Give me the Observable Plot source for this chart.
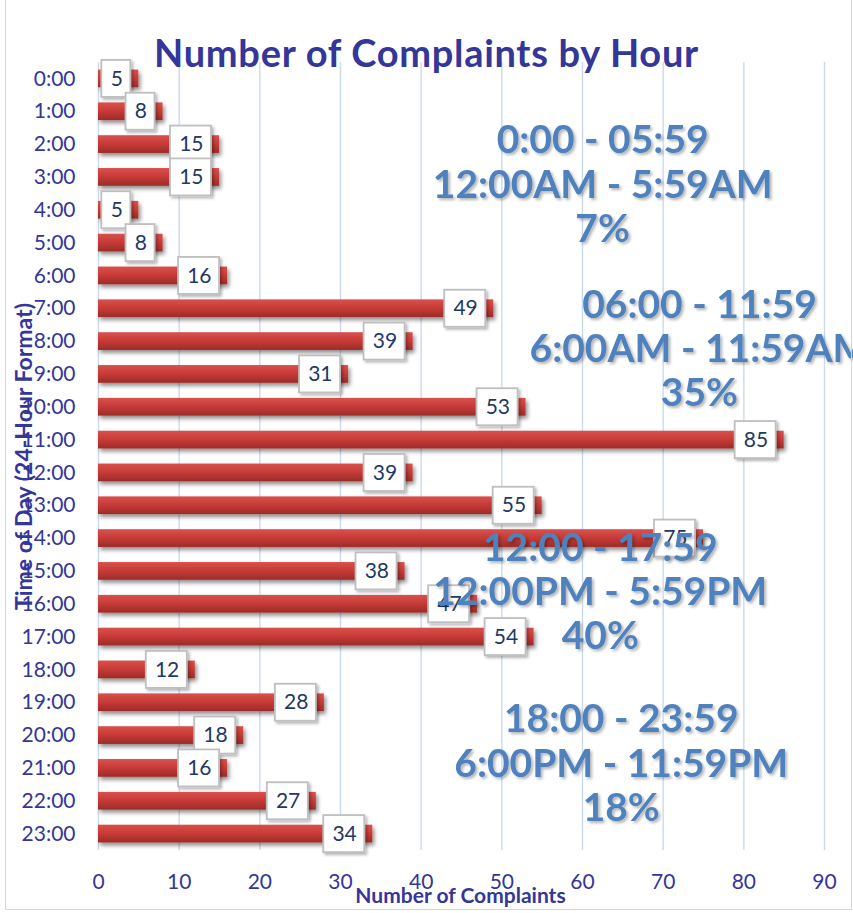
<!DOCTYPE html>
<html>
<head>
<meta charset="utf-8">
<script src="https://cdn.jsdelivr.net/npm/d3@7"></script>
<script src="https://cdn.jsdelivr.net/npm/@observablehq/plot@0.6"></script>
<style>
html, body { margin: 0; padding: 0; background: #fff; }
#wrap { position: relative; width: 853px; height: 913px; overflow: hidden; font-family: Lato, sans-serif; }
#border { position: absolute; left: 5px; top: -3px; width: 847px; height: 913px; border: 1.5px solid #c9d8ec; box-sizing: border-box; pointer-events: none; z-index: 3; }
#title { position: relative; z-index: 2; height: 60px; padding-top: 29px; box-sizing: border-box; line-height: 46px;
  font-size: 38px; font-weight: 700; color: #343699; text-align: center; white-space: nowrap; letter-spacing: 0.7px; }
#chart svg { display: block; }
</style>
</head>
<body>
<div id="wrap">
  <div id="border"></div>
  <div id="title">Number of Complaints by Hour</div>
  <div id="chart"></div>
</div>
<script>
// ---- data ----
const hours = ["0:00","1:00","2:00","3:00","4:00","5:00","6:00","7:00","8:00","9:00","10:00","11:00",
  "12:00","13:00","14:00","15:00","16:00","17:00","18:00","19:00","20:00","21:00","22:00","23:00"];
const complaints = [5,8,15,15,5,8,16,49,39,31,53,85,39,55,75,38,47,54,12,28,18,16,27,34];
const xTicks = [0,10,20,30,40,50,60,70,80,90];

const annRanges = ["0:00 - 05:59","06:00 - 11:59","12:00 - 17:59","18:00 - 23:59"];
const annClock  = ["12:00AM - 5:59AM","6:00AM - 11:59AM","12:00PM - 5:59PM","6:00PM - 11:59PM"];
const annShare  = ["7%","35%","40%","18%"];
const annHour   = ["3:00","8:00","16:00","21:00"];
const annValue  = [62.5, 74.5, 62.2, 64.8];
const annNudge  = [6, 6, -13, -6];

const data = hours.map((hour, i) => ({hour, count: complaints[i]}));
const notes = annRanges.map((r, i) => ({
  label: r + "\n" + annClock[i] + "\n" + annShare[i], x: annValue[i], y: annHour[i]
}));

const W = 853, H = 853;
const navy = "#343699";
const boxH = 37, bw = 788 / 24 * 0.54, insetY = -(boxH - bw) / 2;

const boxMark = (test, w) => Plot.barX(data, {
  filter: test, x1: "count", x2: "count", y: "hour",
  insetLeft: -(w + 8), insetRight: 8, insetTop: insetY, insetBottom: insetY,
  fill: "white", stroke: "#bfbfbf", strokeWidth: 1.8, ariaDescription: "boxes"
});

const plot = Plot.plot({
  width: W, height: H,
  marginLeft: 98, marginRight: 29, marginTop: 2, marginBottom: 63,
  style: {fontFamily: "Lato, sans-serif", background: "transparent", overflow: "visible"},
  x: {domain: [0, 90]},
  y: {domain: hours, paddingInner: 0.46, paddingOuter: 0.23, round: false},
  marks: [
    Plot.ruleX(xTicks, {stroke: "#c9daef", strokeWidth: 1.4}),
    Plot.axisX({ticks: xTicks, tickSize: 0, tickPadding: 24, fontSize: 21, color: navy, label: null}),
    Plot.axisY({tickSize: 0, tickPadding: 23, fontSize: 21, color: navy, label: null}),
    Plot.barX(data, {x: "count", y: "hour", fill: "url(#barGrad)", ariaDescription: "bars"}),
    boxMark(d => d.count < 10, 29),
    boxMark(d => d.count >= 10, 41),
    Plot.text(data, {x: "count", y: "hour", text: d => String(d.count), textAnchor: "end", dx: -16,
      fontSize: 21, fill: "#1f3864"}),
    Plot.text(["Number of Complaints"], {frameAnchor: "bottom", dy: 46, dx: -1, textAnchor: "middle", lineAnchor: "middle",
      fontSize: 21, fontWeight: 700, fill: navy}),
    Plot.text(["Time of Day (24-Hour Format)"], {frameAnchor: "left", dx: -74, rotate: -90, textAnchor: "middle", lineAnchor: "middle",
      fontSize: 23, fontWeight: 700, fill: navy}),
    ...notes.map((n, i) => Plot.text([n], {x: "x", y: "y", text: "label", dy: annNudge[i],
      fontSize: 39, fontWeight: 700, lineHeight: 1.13, fill: "#4f81bd", ariaDescription: "notes"}))
  ]
});

document.getElementById("chart").appendChild(plot);

// gradient + shadows
const svg = d3.select(plot);
const defs = svg.insert("defs", ":first-child");
const g = defs.append("linearGradient").attr("id", "barGrad").attr("x1", 0).attr("y1", 0).attr("x2", 0).attr("y2", 1);
g.append("stop").attr("offset", "0%").attr("stop-color", "#d9514c");
g.append("stop").attr("offset", "45%").attr("stop-color", "#c93c38");
g.append("stop").attr("offset", "100%").attr("stop-color", "#9c2b28");

function shadow(id, dx, dy, blur, op) {
  const f = defs.append("filter").attr("id", id).attr("x", "-20%").attr("y", "-40%").attr("width", "150%").attr("height", "200%");
  f.append("feGaussianBlur").attr("in", "SourceAlpha").attr("stdDeviation", blur);
  f.append("feOffset").attr("dx", dx).attr("dy", dy).attr("result", "off");
  const ct = f.append("feComponentTransfer").attr("result", "sh");
  ct.append("feFuncA").attr("type", "linear").attr("slope", op);
  const m = f.append("feMerge");
  m.append("feMergeNode").attr("in", "sh");
  m.append("feMergeNode").attr("in", "SourceGraphic");
}
shadow("barShadow", 2, 3, 2, 0.45);
shadow("boxShadow", 1.5, 2, 1.5, 0.3);
shadow("textShadow", 1.5, 2, 1.5, 0.3);
svg.selectAll('g[aria-description="bars"]').attr("filter", "url(#barShadow)");
svg.selectAll('g[aria-description="boxes"]').attr("filter", "url(#boxShadow)");
svg.selectAll('g[aria-description="notes"]').attr("filter", "url(#textShadow)");
</script>
</body>
</html>
